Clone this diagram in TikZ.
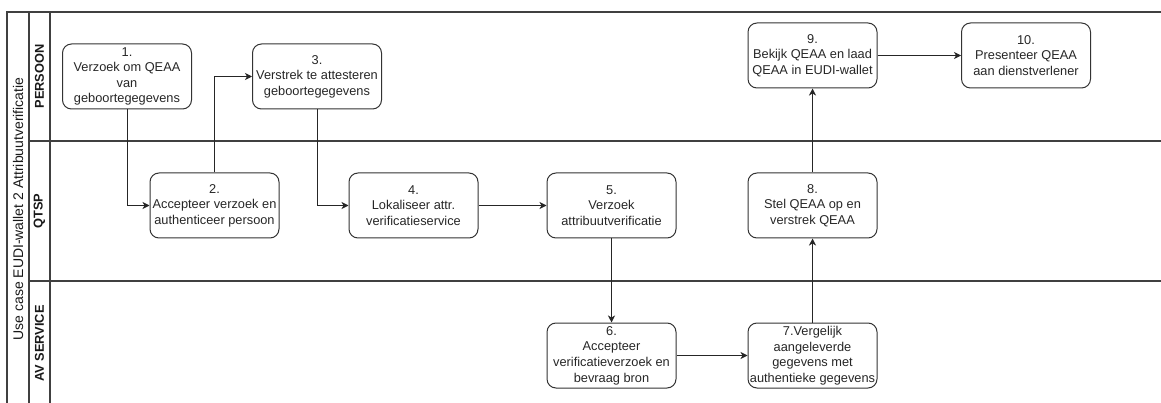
\documentclass[tikz,border=0pt]{standalone}
\usepackage{fontspec}
\setmainfont{Liberation Sans}
\usetikzlibrary{arrows.meta}
\tikzset{
  stepbox/.style={draw=black!80, line width=1pt, rounded corners=9pt, minimum width=129pt, minimum height=65pt, align=center, inner sep=0pt, text=black!85, font=\fontsize{12.8}{15.6}\selectfont},
  arr/.style={draw=black!85, line width=1pt, -{Stealth[length=7pt,width=7pt,inset=2pt]}},
  pool/.style={draw=black!75, line width=1.2pt},
  lanelabel/.style={rotate=90, font=\bfseries\fontsize{12.8}{15}\selectfont, text=black!90},
}
\begin{document}
\begin{tikzpicture}[x=1pt, y=-1pt]
\useasboundingbox (0,0) rectangle (1161,403);
% pool frame
\draw[pool] (1161,12) -- (7,12) -- (7,403);
\draw[pool] (29,12) -- (29,403);
\draw[pool] (50,12) -- (50,403);
\draw[pool] (29,141) -- (1161,141);
\draw[pool] (29,281) -- (1161,281);
\node[rotate=90, font=\fontsize{14}{16}\selectfont, text=black!90] (title) at (18,209) {Use case EUDI-wallet 2 Attribuutverificatie};
\node[lanelabel] (l1) at (39.5,76.5) {PERSOON};
\node[lanelabel] (l2) at (39.5,211) {QTSP};
\node[lanelabel] (l3) at (39.5,343.5) {AV SERVICE};
% steps
\node[stepbox] (b1) at (127,76.5) {1.\\Verzoek om QEAA\\van\\geboortegegevens};
\node[stepbox] (b3) at (317,76.5) {3.\\Verstrek te attesteren\\geboortegegevens};
\node[stepbox] (b2) at (214.5,205.5) {2.\\Accepteer verzoek en\\authenticeer persoon};
\node[stepbox] (b4) at (413.5,205.5) {4.\\Lokaliseer attr.\\verificatieservice};
\node[stepbox] (b5) at (611.5,205.5) {5.\\Verzoek\\attribuutverificatie};
\node[stepbox] (b6) at (611.5,355.5) {6.\\Accepteer\\verificatieverzoek en\\bevraag bron};
\node[stepbox] (b7) at (812.5,355.5) {7.Vergelijk\\aangeleverde\\gegevens met\\authentieke gegevens};
\node[stepbox] (b8) at (812.5,205.5) {8.\\Stel QEAA op en\\verstrek QEAA};
\node[stepbox] (b9) at (812.5,55.5) {9.\\Bekijk QEAA en laad\\QEAA in EUDI-wallet};
\node[stepbox] (b10) at (1026,55.5) {10.\\Presenteer QEAA\\aan dienstverlener};
% connectors
\draw[arr] (b1.south) |- (b2.west);
\draw[arr] (b2.north) |- (b3.west);
\draw[arr] (b3.south) |- (b4.west);
\draw[arr] (b4) -- (b5);
\draw[arr] (b5) -- (b6);
\draw[arr] (b6) -- (b7);
\draw[arr] (b7) -- (b8);
\draw[arr] (b8) -- (b9);
\draw[arr] (b9) -- (b10);
\end{tikzpicture}
\end{document}
